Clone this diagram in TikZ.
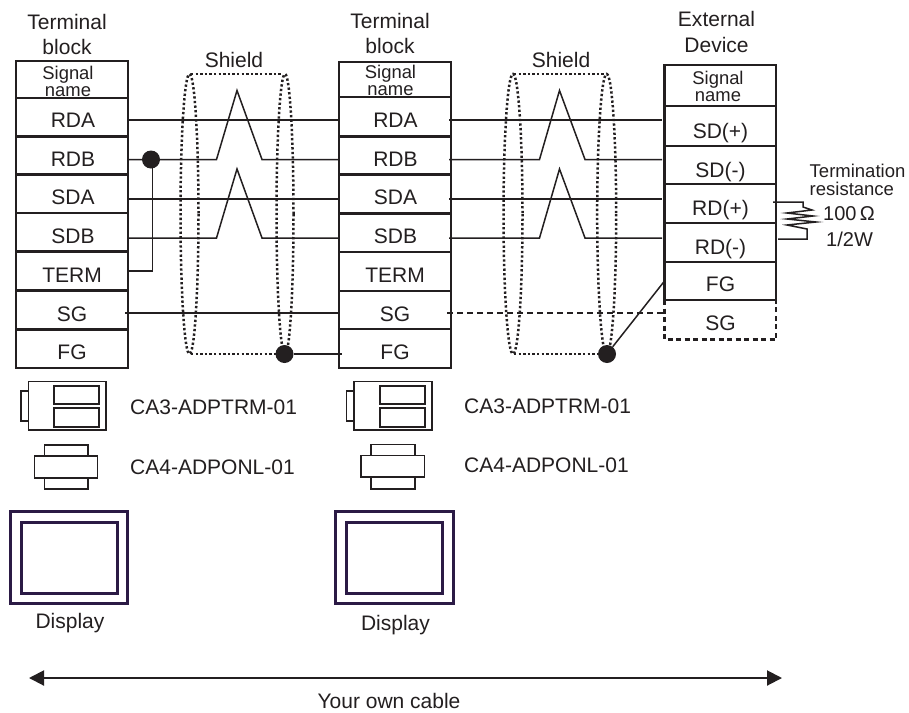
\documentclass[tikz,border=0pt]{standalone}
\usepackage{fontspec}
\setmainfont{Liberation Sans}
\usetikzlibrary{arrows.meta}
\definecolor{ink}{HTML}{231F20}
\definecolor{disp}{HTML}{2B1A45}
\tikzset{
  x=1pt,y=-1pt,
  lbl/.style={inner sep=0pt,text=ink,font=\fontsize{21}{21}\selectfont,anchor=base},
  sig/.style={inner sep=0pt,text=ink,font=\fontsize{18.4}{16.7}\selectfont,align=center,anchor=center},
  term/.style={inner sep=0pt,text=ink,font=\fontsize{18.5}{18}\selectfont,anchor=base west},
  val/.style={inner sep=0pt,text=ink,font=\fontsize{20}{20}\selectfont,anchor=base west},
  blockline/.style={draw=ink,line width=2.1pt},
  wire/.style={draw=ink,line width=1.5pt},
  dashwire/.style={draw=ink,line width=1.5pt,dash pattern=on 6pt off 4pt},
  shield/.style={draw=ink,line width=2.5pt,dash pattern=on 2.3pt off 2.3pt},
  junction/.style={circle,fill=ink,draw=none,minimum size=18pt,inner sep=0pt},
  adapter/.style={draw=ink,line width=1.5pt},
  display/.style={draw=disp,line width=3pt},
}
\begin{document}
\begin{tikzpicture}
\useasboundingbox (0,0) rectangle (909,712);
\fill[white] (0,0) rectangle (909,712);
% headers
\node[lbl] (t1a) at (67,29) {Terminal};
\node[lbl] (t1b) at (67,54) {block};
\node[lbl] (t2a) at (390,28) {Terminal};
\node[lbl] (t2b) at (390,53) {block};
\node[lbl] (t3a) at (716.5,27) {External};
\node[lbl] (t3b) at (716.5,52) {Device};
\node[lbl] (sh1) at (234,67) {Shield};
\node[lbl] (sh2) at (561,67) {Shield};
% left block
\draw[blockline] (16,61) rectangle (128,368);
\foreach \y in {98,136.5,174.5,213,251.5,290.5,329.5}{\draw[blockline] (16,\y) -- (128,\y);}
\node[sig] (s1) at (68,81.3) {Signal\\name};
\node[lbl] (l1) at (73,127) {RDA};
\node[lbl] (l2) at (73,166) {RDB};
\node[lbl] (l3) at (73,204.5) {SDA};
\node[lbl] (l4) at (73,243.5) {SDB};
\node[lbl] (l5) at (72,282) {TERM};
\node[lbl] (l6) at (72,321) {SG};
\node[lbl] (l7) at (72,359.5) {FG};
% centre block
\draw[blockline] (339,62) rectangle (451,368);
\foreach \y in {97,136.5,174.5,213.5,252,291,329}{\draw[blockline] (339,\y) -- (451,\y);}
\node[sig] (s2) at (390.5,80.3) {Signal\\name};
\node[lbl] (c1) at (395.5,127) {RDA};
\node[lbl] (c2) at (395.5,166) {RDB};
\node[lbl] (c3) at (395.5,204.5) {SDA};
\node[lbl] (c4) at (395.5,243.5) {SDB};
\node[lbl] (c5) at (395,282) {TERM};
\node[lbl] (c6) at (395,321) {SG};
\node[lbl] (c7) at (395,359.5) {FG};
% right block
\draw[blockline] (664.5,65) rectangle (776,300);
\foreach \y in {106,146,184,223,262}{\draw[blockline] (664.5,\y) -- (776,\y);}
\draw[blockline,dash pattern=on 5pt off 3.5pt] (664.5,300) -- (664.5,339.5) -- (776,339.5) -- (776,300);
\node[sig] (s3) at (718,86.3) {Signal\\name};
\node[lbl] (r1) at (720.5,138) {SD(+)};
\node[lbl] (r2) at (720.5,177) {SD(-)};
\node[lbl] (r3) at (720.5,215) {RD(+)};
\node[lbl] (r4) at (720.5,254) {RD(-)};
\node[lbl] (r5) at (720.5,291) {FG};
\node[lbl] (r6) at (720.5,330) {SG};
% anchors
\coordinate (a1) at (127,120);
\coordinate (b1) at (339,120);
\coordinate (a2) at (127,159.5);
\coordinate (b2) at (339,159.5);
\coordinate (a3) at (127,199);
\coordinate (b3) at (339,199);
\coordinate (a4) at (127,238);
\coordinate (b4) at (339,238);
\coordinate (a5) at (127,271);
\coordinate (a6) at (125,313);
\coordinate (b6) at (338,313);
\coordinate (b7) at (342,354);
\coordinate (c1w) at (449,120);
\coordinate (d1) at (662,120);
\coordinate (c2w) at (449,159.5);
\coordinate (d2) at (662,159.5);
\coordinate (c3w) at (449,199);
\coordinate (d3) at (662,199);
\coordinate (c4w) at (449,238);
\coordinate (d4) at (662,238);
\coordinate (c6w) at (447,313);
\coordinate (d6) at (664,313);
\coordinate (d7) at (664.5,281);
% junctions
\node[junction] (j1) at (151,159.5) {};
\node[junction] (j2) at (284.5,354) {};
\node[junction] (j3) at (607,354) {};
\coordinate (j1v) at (152.4,159.5);
% wires
\draw[wire] (a1) -- (b1);
\draw[wire] (a2) -- (216.5,159.5) -- (237,90.5) -- (262,159.5) -- (b2);
\draw[wire] (a3) -- (b3);
\draw[wire] (a4) -- (216.5,238) -- (237,169) -- (262,238) -- (b4);
\draw[wire] (a5) -| (j1v);
\draw[wire] (a6) -- (b6);
\draw[wire] (j2) -- (b7);
\draw[wire] (c1w) -- (d1);
\draw[wire] (c2w) -- (539.5,159.5) -- (559.5,90.5) -- (585,159.5) -- (d2);
\draw[wire] (c3w) -- (d3);
\draw[wire] (c4w) -- (539.5,238) -- (559.5,169) -- (585,238) -- (d4);
\draw[dashwire] (c6w) -- (d6);
\draw[wire] (j3) -- (d7);
% shields
\draw[shield] (189.5,214) ellipse [x radius=9,y radius=140];
\draw[shield] (285,214) ellipse [x radius=8.5,y radius=140];
\draw[shield] (191,74) -- (282,74);
\draw[shield] (191,354) -- (282,354);
\draw[shield] (513,214) ellipse [x radius=9.5,y radius=140];
\draw[shield] (606.7,214) ellipse [x radius=9.5,y radius=140];
\draw[shield] (514,74) -- (604,74);
\draw[shield] (514,354) -- (604,354);
% termination resistor
\coordinate (ra) at (773,202);
\coordinate (rb) at (778,239);
\draw[wire] (ra) -- (803,202) -- (803,207) -- (812,210) -- (787,213) -- (813,216) -- (787,219) -- (816,222) -- (787,225) -- (807,229) -- (807,239) -- (rb);
\node[term] (tr1) at (809.5,177) {Termination};
\node[term] (tr2) at (809.5,195) {resistance};
\node[val] (tr3) at (823,220) {100\,Ω};
\node[val] (tr4) at (826,246) {1/2W};
% adapters, left
\draw[adapter] (28.5,381.5) rectangle (106,430);
\draw[adapter] (21,391) rectangle (28.5,421);
\draw[adapter] (54,386) rectangle (99,404);
\draw[adapter] (54,408) rectangle (99,427);
\node[lbl,anchor=base west] (ad1) at (130,414.5) {CA3-ADPTRM-01};
\draw[adapter] (44.5,445) rectangle (88,456);
\draw[adapter] (44.5,478) rectangle (88,489);
\draw[adapter] (34.5,456) rectangle (97.5,478);
\node[lbl,anchor=base west] (ad2) at (130,474) {CA4-ADPONL-01};
% adapters, centre
\draw[adapter] (354,381.5) rectangle (432,430);
\draw[adapter] (346.5,391) rectangle (354,421);
\draw[adapter] (380,386) rectangle (425,404);
\draw[adapter] (380,408) rectangle (425,427);
\node[lbl,anchor=base west] (ad3) at (464,413) {CA3-ADPTRM-01};
\draw[adapter] (371,444.5) rectangle (415,455.5);
\draw[adapter] (371,477) rectangle (415,489);
\draw[adapter] (361,455.5) rectangle (424.5,477);
\node[lbl,anchor=base west] (ad4) at (464,472) {CA4-ADPONL-01};
% displays
\draw[display] (10,511) rectangle (127.5,603);
\draw[display] (21,522) rectangle (117,593);
\node[lbl] (dp1) at (70,628) {Display};
\draw[display] (335.5,511.5) rectangle (453,603);
\draw[display] (346.5,522) rectangle (442,593);
\node[lbl] (dp2) at (395.5,630) {Display};
% cable
\coordinate (ca) at (29,678);
\coordinate (cb) at (782,678);
\draw[draw=ink,line width=2pt,{Triangle[length=15pt,width=15pt]}-{Triangle[length=15pt,width=15pt]}] (ca) -- (cb);
\node[lbl] (own) at (389,708) {Your own cable};
\end{tikzpicture}
\end{document}
